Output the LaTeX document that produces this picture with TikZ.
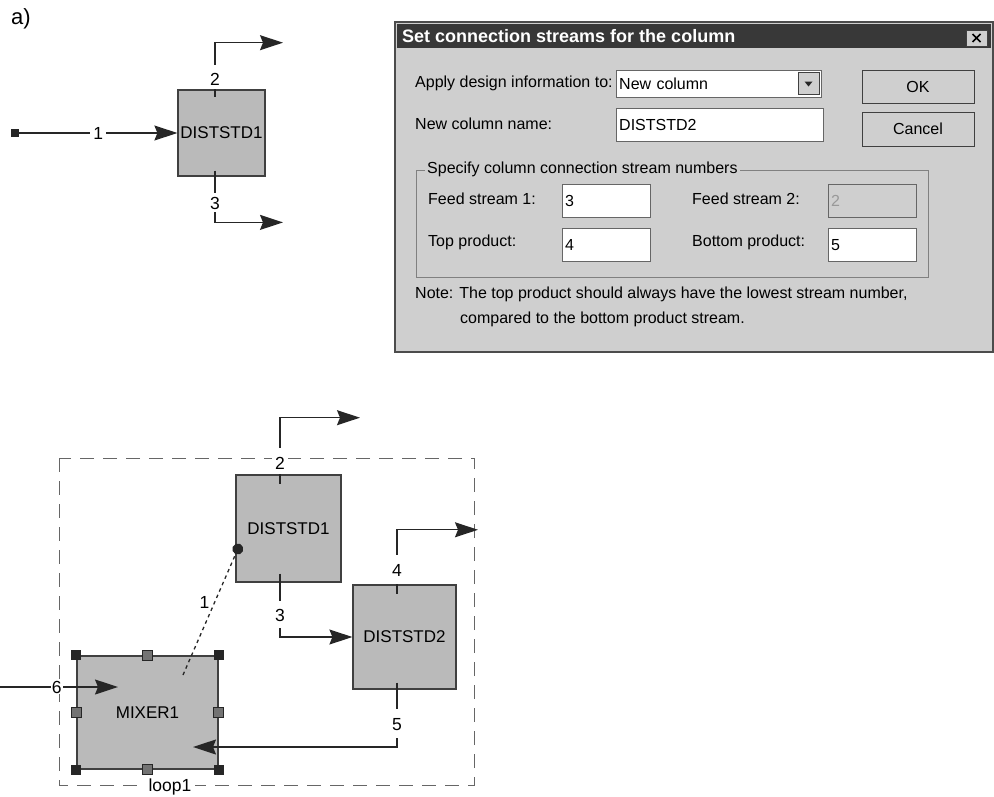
\documentclass[tikz,border=0pt]{standalone}
\usepackage{fontspec}
\setmainfont{Liberation Sans}
\usetikzlibrary{arrows.meta,positioning}
\begin{document}
\begin{tikzpicture}[x=1pt,y=-1pt,
  unit/.style={draw=black!75,fill=black!27,line width=1.2pt,inner sep=0pt,font=\fontsize{17}{18}\selectfont},
  strm/.style={draw=black!85,line width=1.3pt},
  flow/.style={strm,-{Stealth[length=23pt,width=15pt,inset=3pt]}},
  num/.style={fill=white,inner sep=3pt,font=\fontsize{17.5}{18}\selectfont},
  dlg/.style={font=\fontsize{16}{18}\selectfont,inner sep=0pt,anchor=west},
  field/.style={draw=black!60,fill=white,inner sep=3pt,align=left,anchor=north west,font=\fontsize{16}{18}\selectfont},
  btn/.style={draw=black!75,fill=black!19,line width=1pt,inner sep=0pt,font=\fontsize{16}{18}\selectfont}]
\useasboundingbox (0,0) rectangle (994,796);
\node[font=\fontsize{22}{24}\selectfont] (tag) at (21,19) {a)};
% single column
\node[unit,minimum width=87pt,minimum height=86pt] (d1) at (221.5,133) {DISTSTD1};
\node[fill=black!85,minimum size=8pt,inner sep=0pt] (src) at (15,133) {};
\draw[flow] (src) -- node[num]{1} (d1.west);
\node[num] (n2) at (215,79) {2};
\draw[strm] (n2 |- d1.north) -- ++(0,8);
\draw[flow] ([yshift=5pt]n2.north) |- ++(68,-22);
\node[num] (n3) at (215,203) {3};
\draw[strm] (n3 |- d1.south) ++(0,-6) -- ++(0,22);
\draw[flow] (n3.south) |- ++(68,10);
% dialog window
\filldraw[fill=black!19,draw=black!70,line width=1.5pt] (395,22) rectangle (993,352);
\fill[black!78] (397,24) rectangle (991,48);
\node[dlg,text=white,font=\fontsize{18}{20}\selectfont\bfseries] (title) at (402,36) {Set connection streams for the column};
\node[btn,minimum width=21pt,minimum height=16pt] (cls) at (976.5,38) {};
\draw[line width=1.6pt] (cls.center) ++(-4,-4) -- ++(8,8) (cls.center) ++(4,-4) -- ++(-8,8);
\node[dlg] (apply) at (415,83) {Apply design information to:};
\node[field,text width=199pt,minimum height=27pt] (combo) at (616,70) {New column};
\node[btn,minimum width=21pt,minimum height=22pt] (drop) at (808.5,83.5) {};
\fill[black!85] (drop.center) ++(-4,-2) -- ++(8,0) -- ++(-4,5) -- cycle;
\node[dlg] (cname) at (415,124) {New column name:};
\node[field,text width=201pt,minimum height=33pt] (fname) at (616,108) {DISTSTD2};
\node[btn,minimum width=112pt,minimum height=33pt] (ok) at (918,86.5) {OK};
\node[btn,minimum width=112pt,minimum height=34pt] (cancel) at (918,129) {Cancel};
\draw[black!50,line width=1pt] (416,170) rectangle (928,277);
\node[dlg,fill=black!19,inner sep=2pt] (grp) at (425,169) {Specify column connection stream numbers};
\node[dlg] (lf1) at (428,199) {Feed stream 1:};
\node[field,text width=82pt,minimum height=33pt] (ff1) at (562,184) {3};
\node[dlg] (lf2) at (692,199) {Feed stream 2:};
\node[field,fill=black!19,text=black!40,text width=82pt,minimum height=33pt] (ff2) at (828,184) {2};
\node[dlg] (ltop) at (428,242) {Top product:};
\node[field,text width=82pt,minimum height=33pt] (ftop) at (562,228) {4};
\node[dlg] (lbot) at (692,242) {Bottom product:};
\node[field,text width=82pt,minimum height=33pt] (fbot) at (828,228) {5};
\node[dlg] (note) at (415,294) {Note: The top product should always have the lowest stream number,};
\node[dlg] (note2) at (460,319) {compared to the bottom product stream.};
% loop with mixer
\draw[black!60,line width=1pt,dash pattern=on 14pt off 9pt] (59,458) rectangle (474,785);
\node[num,inner sep=4pt] (loop) at (170,787) {loop1};
\node[unit,minimum width=105pt,minimum height=107pt] (d2) at (288.5,528.5) {DISTSTD1};
\node[unit,minimum width=103pt,minimum height=104pt] (d3) at (404.5,637) {DISTSTD2};
\node[unit,minimum width=141pt,minimum height=113pt] (mx) at (147.5,712.5) {MIXER1};
\foreach \a in {north west,north east,south west,south east}
  \fill[black!85] (mx.\a) ++(-5,-5) rectangle ++(10,10);
\foreach \a in {north,south,east,west}
  \filldraw[fill=black!55,draw=black!85] (mx.\a) ++(-5,-5) rectangle ++(10,10);
\node[num] (m2) at (280,463) {2};
\draw[strm] (m2 |- d2.north) -- ++(0,10);
\draw[flow] ([yshift=6pt]m2.north) |- ++(80,-30);
\node[num] (m3) at (280,615) {3};
\draw[strm] (m3 |- d2.south) ++(0,-9) -- ++(0,27);
\draw[flow] ([yshift=-4pt]m3.south) |- (d3.west);
\node[num] (m4) at (397,570) {4};
\draw[strm] (m4 |- d3.north) -- ++(0,10);
\draw[flow] ([yshift=6pt]m4.north) |- ++(81,-25);
\node[num] (m5) at (397,725) {5};
\draw[strm] (m5 |- d3.south) ++(0,-7) -- ++(0,26);
\coordinate (r5) at (193,747);
\draw[flow] ([yshift=-4pt]m5.south) |- (r5);
\coordinate (s6) at (0,687);
\coordinate (r6) at (118,687);
\draw[flow] (s6) -- node[num,pos=0.48,inner sep=1pt]{6} (r6);
\coordinate (o1) at (183,675);
\coordinate (t1) at (240,544);
\draw[strm,dash pattern=on 3.5pt off 3.5pt,-{Circle[length=11pt]}] (o1) -- node[pos=0.55,left=1pt,font=\fontsize{17.5}{18}\selectfont]{1} (t1);
\end{tikzpicture}
\end{document}
